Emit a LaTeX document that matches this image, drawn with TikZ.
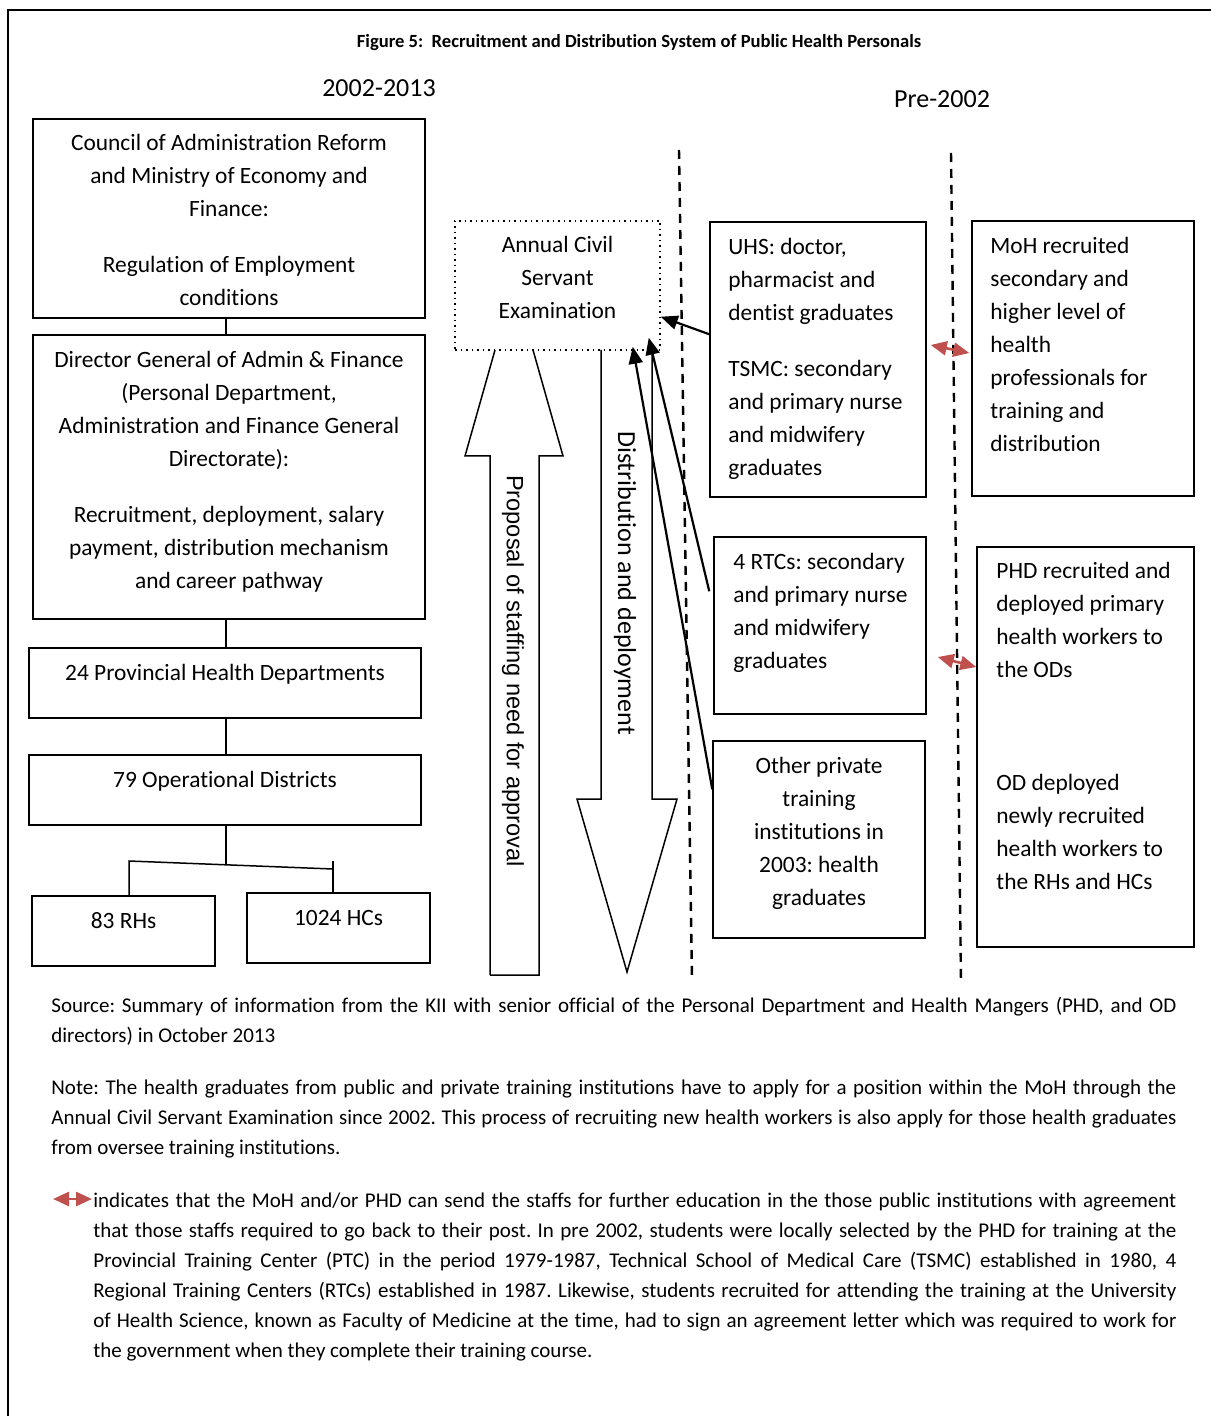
\documentclass[tikz,border=0pt]{standalone}
\usepackage{fontspec}
\setmainfont{Carlito}[Ligatures={NoCommon}]
\newfontfamily\arialf{Liberation Sans}
\usetikzlibrary{arrows.meta}
\definecolor{redarr}{HTML}{C0504D}
\frenchspacing
\tikzset{
 box/.style={draw, line width=0.75pt, inner sep=0pt},
 dotbox/.style={draw, line width=0.75pt, inner sep=0pt, dotted},
 txt/.style={inner sep=0pt, font=\frenchspacing\fontsize{11.7}{16.5}\selectfont},
 ctxt/.style={txt, anchor=north, align=center},
 ltxt/.style={txt, anchor=north west, align=left},
 conn/.style={line width=0.75pt},
 bigarrow/.style={line width=0.75pt, line join=miter},
 arr/.style={line width=1.1pt, -{Triangle[length=8.5pt,width=7pt]}},
 redar/.style={redarr, line width=1.3pt, {Triangle[length=8pt,width=7pt]}-{Triangle[length=8pt,width=7pt]}},
 divider/.style={line width=1.2pt, dash pattern=on 4.5pt off 3.5pt},
 para/.style={inner sep=0pt, anchor=north west, align=left, font=\frenchspacing\fontsize{10.5}{15}\selectfont},
 frame/.style={line width=1.25pt},
}
\begin{document}
\begin{tikzpicture}[x=0.5pt,y=-0.5pt]
\useasboundingbox (0,0) rectangle (1211,1416);
% outer frame
\coordinate (fBL) at (8,1416);
\coordinate (fTL) at (8,10);
\coordinate (fTR) at (1211,10);
\draw[frame] (fBL) -- (fTL) -- (fTR);

% headings
\node[inner sep=0pt, font=\bfseries\fontsize{9.3}{11}\selectfont] (title) at (639,43) {Figure 5:\ \ Recruitment and Distribution System of Public Health Personals};
\node[inner sep=0pt, font=\fontsize{13}{15}\selectfont] (h1) at (379,88) {2002-2013};
\node[inner sep=0pt, font=\fontsize{13}{15}\selectfont] (h2) at (942,99) {Pre-2002};

% left column boxes
\node[box, minimum width=196pt, minimum height=99.5pt] (council) at (229,218.5) {};
\node[ctxt] (councilT) at (229,127.4) {\strut Council of Administration Reform\\and Ministry of Economy and\\Finance:\\[11.5pt]Regulation of Employment\\conditions};
\node[box, minimum width=196pt, minimum height=142pt] (director) at (229,477) {};
\node[ctxt] (directorT) at (229,344.4) {\strut Director General of Admin \& Finance\\(Personal Department,\\Administration and Finance General\\Directorate):\\[11.5pt]Recruitment, deployment, salary\\payment, distribution mechanism\\and career pathway};
\node[box, minimum width=196pt, minimum height=35pt] (phds) at (225,683) {};
\node[ctxt] (phdsT) at (225,657.4) {\strut 24 Provincial Health Departments};
\node[box, minimum width=196pt, minimum height=35pt] (ods) at (225,790) {};
\node[ctxt] (odsT) at (225,764.4) {\strut 79 Operational Districts};
\node[box, minimum width=91.5pt, minimum height=35pt] (rhs) at (123.5,931) {};
\node[ctxt] (rhsT) at (123.5,905.4) {\strut 83 RHs};
\node[box, minimum width=91.5pt, minimum height=35pt] (hcs) at (338.5,928) {};
\node[ctxt] (hcsT) at (338.5,902.4) {\strut 1024 HCs};

% left connectors
\draw[conn] ([xshift=-1.5pt]council.south) -- ([xshift=-1.5pt]director.north);
\draw[conn] ([xshift=-1.5pt]director.south) -- ([xshift=0.5pt]phds.north);
\draw[conn] ([xshift=0.5pt]phds.south) -- ([xshift=0.5pt]ods.north);
\coordinate (brL) at (129,861);
\coordinate (brR) at (333,869);
\coordinate (brM) at (226,864);
\coordinate (brRt) at (333,861);
\draw[conn] ([xshift=0.5pt]ods.south) -- (brM);
\draw[conn] (rhs.north -| brL) -- (brL) -- (brR);
\draw[conn] (brRt) -- (hcs.north -| brRt);

% exam box
\node[dotbox, minimum width=102.5pt, minimum height=64.5pt] (exam) at (557.5,285.5) {};
\node[ctxt] (examT) at (557.5,229.4) {\strut Annual Civil\\Servant\\Examination};

% big arrows
\draw[bigarrow] (490,975) -- (490,456) -- (465,456) -- (495,350) (533,350) -- (563,456) -- (539,456) -- (539,975) -- (490,975);
\node[inner sep=0pt, rotate=-90, font=\arialf\fontsize{11.8}{14}\selectfont] (propT) at (513,671) {Proposal of staffing need for approval};
\draw[bigarrow] (601,350) -- (601,799) -- (577,799) -- (627,972) -- (677,799) -- (652,799) -- (652,350);
\node[inner sep=0pt, rotate=-90, font=\fontsize{13}{15}\selectfont] (distT) at (625,583) {Distribution and deployment};

% dividers
\coordinate (d1a) at (679,150);
\coordinate (d1b) at (692,980);
\coordinate (d2a) at (951,153);
\coordinate (d2b) at (961,983);
\draw[divider] (d1a) -- (d1b);
\draw[divider] (d2a) -- (d2b);

% right boxes
\node[box, minimum width=108pt, minimum height=137.5pt] (uhs) at (818,359.5) {};
\node[ltxt] (uhsT) at (728,231.4) {\strut UHS: doctor,\\pharmacist and\\dentist graduates\\[11.5pt]TSMC: secondary\\and primary nurse\\and midwifery\\graduates};
\node[box, minimum width=106pt, minimum height=88.5pt] (rtc) at (820,625.5) {};
\node[ltxt] (rtcT) at (733,546.4) {\strut 4 RTCs: secondary\\and primary nurse\\and midwifery\\graduates};
\node[box, minimum width=106pt, minimum height=98.5pt] (other) at (819,839.5) {};
\node[ctxt] (otherT) at (819,750.4) {\strut Other private\\training\\institutions in\\2003: health\\graduates};
\node[box, minimum width=111pt, minimum height=137.5pt] (moh) at (1083,358.5) {};
\node[ltxt] (mohT) at (990,230.4) {\strut MoH recruited\\secondary and\\higher level of\\health\\professionals for\\training and\\distribution};
\node[box, minimum width=108.5pt, minimum height=200pt] (phd) at (1085.5,747) {};
\node[ltxt] (phdT) at (996,555.4) {\strut PHD recruited and\\deployed primary\\health workers to\\the ODs\\[40pt]OD deployed\\newly recruited\\health workers to\\the RHs and HCs};

% black arrows
\draw[arr] ([yshift=-56.5pt]uhs.north west) -- ([yshift=17pt]exam.south east);
\draw[arr] ([xshift=-2pt,yshift=-27.5pt]rtc.north west) -- ([xshift=-6pt,yshift=6.5pt]exam.south east);
\draw[arr] ([yshift=-24.5pt]other.north west) -- ([xshift=-14pt,yshift=2pt]exam.south east);

% red arrows
\draw[redar] ([xshift=2pt,yshift=7.25pt]uhs.east) -- ([xshift=-1pt,yshift=2.75pt]moh.west);
\draw[redar] ([xshift=5.5pt,yshift=-15.75pt]rtc.east) -- ([yshift=40pt]phd.west);

% paragraphs
\node[para] (source) at (51,990.7) {\makebox[562.5pt][s]{\strut Source: Summary of information from the KII with senior official of the Personal Department and Health Mangers (PHD, and OD}\\directors) in October 2013};
\node[para] (note) at (51,1072.7) {\makebox[562.5pt][s]{\strut Note: The health graduates from public and private training institutions have to apply for a position within the MoH through the}\\\makebox[562.5pt][s]{Annual Civil Servant Examination since 2002. This process of recruiting new health workers is also apply for those health graduates}\\from oversee training institutions.};
\coordinate (lgA) at (53,1199);
\coordinate (lgB) at (92,1199);
\draw[redar] (lgA) -- (lgB);
\node[para] (legend) at (93,1185.7) {\makebox[541.5pt][s]{\strut indicates that the MoH and/or PHD can send the staffs for further education in the those public institutions with agreement}\\\makebox[541.5pt][s]{that those staffs required to go back to their post. In pre 2002, students were locally selected by the PHD for training at the}\\\makebox[541.5pt][s]{Provincial Training Center (PTC) in the period 1979-1987, Technical School of Medical Care (TSMC) established in 1980, 4}\\\makebox[541.5pt][s]{Regional Training Centers (RTCs) established in 1987. Likewise, students recruited for attending the training at the University}\\\makebox[541.5pt][s]{of Health Science, known as Faculty of Medicine at the time, had to sign an agreement letter which was required to work for}\\the government when they complete their training course.};
\end{tikzpicture}
\end{document}
